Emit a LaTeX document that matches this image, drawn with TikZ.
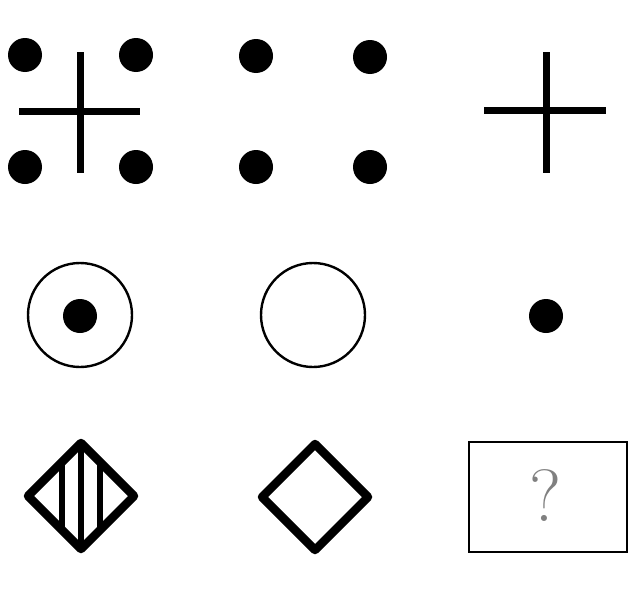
\documentclass[tikz,border=0pt]{standalone}
\begin{document}
\begin{tikzpicture}[x=1pt,y=-1pt,
  thick line/.style={line width=7pt},
  dotfill/.style={fill=black},
  ring/.style={draw=black,line width=2.4pt},
  rhomb/.style={line width=8.5pt,line join=round}]
\useasboundingbox (0,0) rectangle (631,597);
% row 1 left
\foreach \p in {(25,55),(136,55),(25,167),(136,167)} \fill[dotfill] \p circle (17);
\draw[thick line] (80,52) -- (80,173);
\draw[thick line] (19,111) -- (140,111);
% row 1 middle
\foreach \p in {(256,56),(370,57),(256,167),(370,167)} \fill[dotfill] \p circle (17);
% row 1 right
\draw[thick line] (546,52) -- (546,173);
\draw[thick line] (484,110) -- (606,110);
% row 2
\draw[ring] (80,315) circle (52);
\fill[dotfill] (80,316) circle (17);
\draw[ring] (313,315) circle (52);
\fill[dotfill] (546,316) circle (17);
% row 3 left diamond
\draw[rhomb] (28,496) -- (81,443) -- (134,496) -- (81,549) -- cycle;
\draw[line width=6.5pt] (81,443) -- (81,549);
\draw[line width=6.5pt] (62,462) -- (62,530);
\draw[line width=6.5pt] (100,462) -- (100,530);
% row 3 middle diamond
\draw[rhomb] (262,497) -- (315,444) -- (368,497) -- (315,550) -- cycle;
% box
\draw[line width=2pt] (469,442) rectangle (627,552);
\node[text=black!50,font=\fontsize{74}{74}\selectfont] (q) at (546,496) {?};
\end{tikzpicture}
\end{document}
